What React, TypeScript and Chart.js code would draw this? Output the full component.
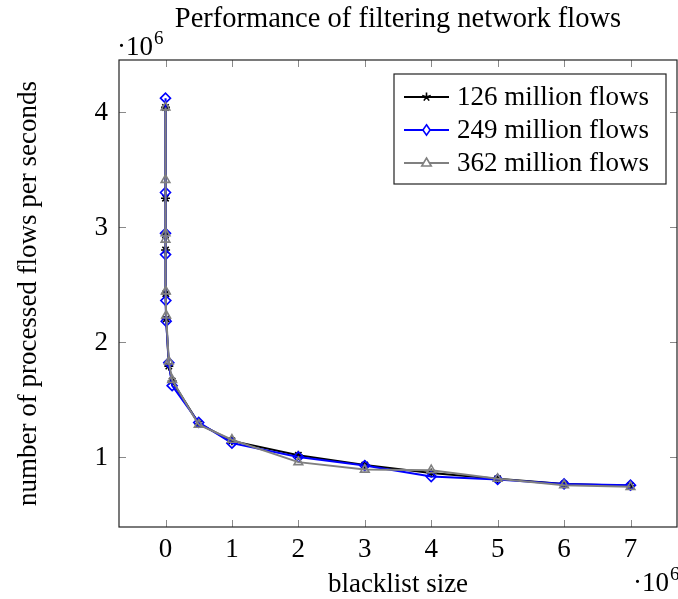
import React, { useEffect, useRef } from "react";
import { Chart, registerables } from "chart.js";

Chart.register(...registerables);

const blacklistSizes = [1, 10, 100, 1000, 5000, 10000, 50000, 100000, 500000, 1000000, 2000000, 3000000, 4000000, 5000000, 6000000, 7000000];
const flows126 = [4040000, 3250000, 2930000, 2800000, 2420000, 2200000, 1790000, 1660000, 1290000, 1140000, 1015000, 930000, 860000, 810000, 765000, 750000];
const flows249 = [4120000, 3300000, 2945000, 2760000, 2360000, 2180000, 1820000, 1620000, 1300000, 1120000, 1000000, 925000, 830000, 805000, 765000, 755000];
const flows362 = [4040000, 3410000, 2890000, 2945000, 2440000, 2230000, 1830000, 1670000, 1280000, 1150000, 955000, 890000, 885000, 810000, 755000, 740000];

const seriesLabels = ["126 million flows", "249 million flows", "362 million flows"];
const seriesColors = ["#000000", "#0000ff", "#808080"];
const seriesMarkers = ["star", "rectRot", "triangle"];
const xTickValues = [0, 1, 2, 3, 4, 5, 6, 7];
const yTickValues = [1, 2, 3, 4];

const chartTitle = "Performance of filtering network flows";
const xTitle = "blacklist size";
const yTitle = "number of processed flows per seconds";

const FONT = '"Liberation Serif", "DejaVu Serif", serif';

function drawMarker(ctx: CanvasRenderingContext2D, style: string, x: number, y: number, color: string) {
  ctx.save();
  ctx.strokeStyle = color;
  ctx.fillStyle = color;
  ctx.lineWidth = 1.6;
  ctx.beginPath();
  if (style === "star") {
    const r = 4.5;
    for (let i = 0; i < 5; i++) {
      const a = -Math.PI / 2 + (i * 2 * Math.PI) / 5;
      ctx.moveTo(x, y);
      ctx.lineTo(x + r * Math.cos(a), y + r * Math.sin(a));
    }
    ctx.stroke();
  } else if (style === "rectRot") {
    const r = 4.5;
    ctx.moveTo(x, y - r * 1.15);
    ctx.lineTo(x + r * 0.8, y);
    ctx.lineTo(x, y + r * 1.15);
    ctx.lineTo(x - r * 0.8, y);
    ctx.closePath();
    ctx.fillStyle = "#ffffff";
    ctx.fill();
    ctx.stroke();
  } else {
    const r = 5;
    ctx.moveTo(x, y - r);
    ctx.lineTo(x + r * 0.95, y + r * 0.6);
    ctx.lineTo(x - r * 0.95, y + r * 0.6);
    ctx.closePath();
    ctx.fillStyle = "#ffffff";
    ctx.fill();
    ctx.stroke();
  }
  ctx.restore();
}

const framePlugin = {
  id: "framePlugin",
  afterDraw(chart: any) {
    const ctx: CanvasRenderingContext2D = chart.ctx;
    const { left, right, top, bottom } = chart.chartArea;
    const xs = chart.scales.x;
    const ys = chart.scales.y;
    ctx.save();
    // tick marks (inward, all four sides)
    ctx.strokeStyle = "#8a8a8a";
    ctx.lineWidth = 1;
    const tl = 7;
    ctx.beginPath();
    xTickValues.forEach((v) => {
      const px = Math.round(xs.getPixelForValue(v * 1e6)) + 0.5;
      ctx.moveTo(px, bottom);
      ctx.lineTo(px, bottom - tl);
      ctx.moveTo(px, top);
      ctx.lineTo(px, top + tl);
    });
    yTickValues.forEach((v) => {
      const py = Math.round(ys.getPixelForValue(v * 1e6)) + 0.5;
      ctx.moveTo(left, py);
      ctx.lineTo(left + tl, py);
      ctx.moveTo(right, py);
      ctx.lineTo(right - tl, py);
    });
    ctx.stroke();
    // frame
    ctx.strokeStyle = "#222";
    ctx.lineWidth = 1.2;
    ctx.strokeRect(left, top, right - left, bottom - top);

    // texts
    ctx.fillStyle = "#000";
    ctx.textBaseline = "alphabetic";
    ctx.font = `28.5px ${FONT}`;
    ctx.textAlign = "center";
    ctx.fillText(chartTitle, (left + right) / 2, 27);
    ctx.font = `27px ${FONT}`;
    ctx.fillText(xTitle, (left + right) / 2, 592);

    ctx.save();
    ctx.translate(36, (top + bottom) / 2);
    ctx.rotate(-Math.PI / 2);
    ctx.fillText(yTitle, 0, 0);
    ctx.restore();

    // ·10^6 multipliers
    const drawMult = (x: number, baseline: number) => {
      ctx.textAlign = "left";
      ctx.font = `27px ${FONT}`;
      const s = "·10";
      ctx.fillText(s, x, baseline);
      const w = ctx.measureText(s).width;
      ctx.font = `19px ${FONT}`;
      ctx.fillText("6", x + w + 1, baseline - 11);
    };
    drawMult(117, 55);
    drawMult(633, 591);

    // x tick labels
    ctx.font = `27px ${FONT}`;
    ctx.textAlign = "center";
    xTickValues.forEach((v) => {
      ctx.fillText(String(v), xs.getPixelForValue(v * 1e6), 557);
    });
    ctx.textAlign = "right";
    ctx.textBaseline = "middle";
    yTickValues.forEach((v) => {
      ctx.fillText(String(v), 108, ys.getPixelForValue(v * 1e6) + 1);
    });

    // legend
    const lx = 394, ly = 74, lw = 272, lh = 110;
    ctx.fillStyle = "#fff";
    ctx.fillRect(lx, ly, lw, lh);
    ctx.strokeStyle = "#222";
    ctx.lineWidth = 1.2;
    ctx.strokeRect(lx, ly, lw, lh);
    const rows = [97, 130, 163];
    seriesLabels.forEach((lab, i) => {
      const y = rows[i];
      ctx.strokeStyle = seriesColors[i];
      ctx.lineWidth = 2;
      ctx.beginPath();
      ctx.moveTo(404, y);
      ctx.lineTo(449, y);
      ctx.stroke();
      drawMarker(ctx, seriesMarkers[i], 426.5, y, seriesColors[i]);
      ctx.fillStyle = "#000";
      ctx.font = `27px ${FONT}`;
      ctx.textAlign = "left";
      ctx.textBaseline = "middle";
      ctx.fillText(lab, 457, y + 1);
    });
    ctx.restore();
  },
};

export default function App() {
  const canvasRef = useRef<HTMLCanvasElement | null>(null);

  useEffect(() => {
    const canvas = canvasRef.current;
    if (!canvas) return;
    const all = [flows126, flows249, flows362];
    const datasets = all.map((vals, i) => ({
      label: seriesLabels[i],
      data: vals.map((v, j) => ({ x: blacklistSizes[j], y: v })),
      showLine: true,
      borderColor: seriesColors[i],
      backgroundColor: i === 0 ? seriesColors[i] : "rgba(255,255,255,0)",
      borderWidth: 2,
      pointStyle: seriesMarkers[i],
      pointRadius: i === 0 ? 4.5 : 5,
      pointBorderWidth: 1.6,
      pointBorderColor: seriesColors[i],
      pointBackgroundColor: "rgba(255,255,255,0)",
      order: 2 - i,
      tension: 0,
    }));
    const chart = new Chart(canvas, {
      type: "scatter",
      data: { datasets },
      options: {
        animation: false,
        responsive: false,
        devicePixelRatio: 1,
        layout: { autoPadding: false, padding: { left: 0, top: 60, right: 1, bottom: 0 } },
        plugins: { legend: { display: false }, tooltip: { enabled: false }, title: { display: false } },
        scales: {
          x: {
            type: "linear",
            min: -700000,
            max: 7700000,
            grid: { display: false },
            border: { display: false },
            ticks: { display: false },
            afterFit: (s: any) => { s.height = 72; },
          },
          y: {
            type: "linear",
            min: 391000,
            max: 4452000,
            grid: { display: false },
            border: { display: false },
            ticks: { display: false },
            afterFit: (s: any) => { s.width = 119; },
          },
        },
      },
      plugins: [framePlugin],
    } as any);
    return () => chart.destroy();
  }, []);

  return (
    <div style={{ position: "absolute", left: 0, top: 0, width: 678, height: 599, background: "#fff" }}>
      <canvas ref={canvasRef} width={678} height={599} style={{ display: "block" }} />
    </div>
  );
}
